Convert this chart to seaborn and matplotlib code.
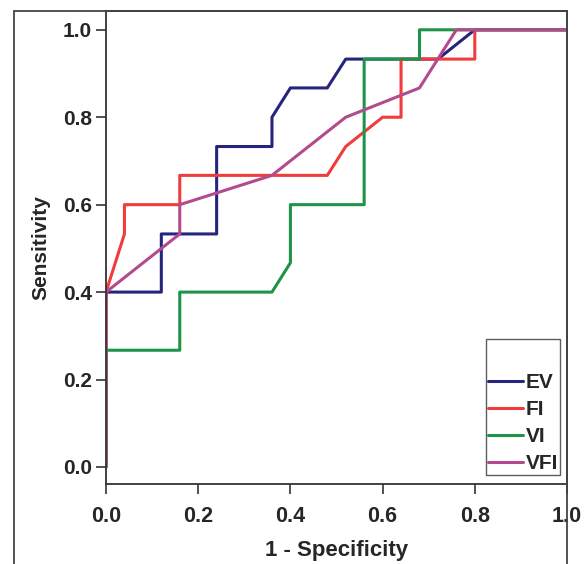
import matplotlib
matplotlib.use('Agg')
import numpy as np
import pandas as pd
import seaborn as sns
from matplotlib import pyplot as plt
from matplotlib.patches import Rectangle

# ROC points (1 - specificity, sensitivity)
ev_x = [0, 0, 0.12, 0.12, 0.24, 0.24, 0.36, 0.36, 0.40, 0.48, 0.52, 0.72, 0.80, 1.0]
ev_y = [0, 0.4, 0.4, 0.533, 0.533, 0.733, 0.733, 0.8, 0.867, 0.867, 0.933, 0.933, 1.0, 1.0]

fi_x = [0, 0, 0.04, 0.04, 0.16, 0.16, 0.48, 0.52, 0.60, 0.64, 0.64, 0.80, 0.80, 1.0]
fi_y = [0, 0.4, 0.533, 0.6, 0.6, 0.667, 0.667, 0.733, 0.8, 0.8, 0.933, 0.933, 1.0, 1.0]

vi_x = [0, 0, 0.16, 0.16, 0.36, 0.40, 0.40, 0.56, 0.56, 0.68, 0.68, 1.0]
vi_y = [0, 0.267, 0.267, 0.4, 0.4, 0.467, 0.6, 0.6, 0.933, 0.933, 1.0, 1.0]

vfi_x = [0, 0, 0.16, 0.16, 0.36, 0.52, 0.68, 0.76, 1.0]
vfi_y = [0, 0.4, 0.533, 0.6, 0.667, 0.8, 0.867, 1.0, 1.0]

names = ["EV", "FI", "VI", "VFI"]
colors = {"EV": "#25257d", "FI": "#f03c3c", "VI": "#1f9448", "VFI": "#b44a8e"}
ticks = [0.0, 0.2, 0.4, 0.6, 0.8, 1.0]

frames = []
for name, xs, ys in zip(names, [ev_x, fi_x, vi_x, vfi_x], [ev_y, fi_y, vi_y, vfi_y]):
    frames.append(pd.DataFrame({"spec": xs, "sens": ys, "curve": name}))
df = pd.concat(frames, ignore_index=True)

sns.set_style("white")
plt.rcParams['font.family'] = ['Liberation Sans', 'DejaVu Sans']
plt.rcParams['font.weight'] = 'bold'

W, H = 587, 564
fig = plt.figure(figsize=(W / 100, H / 100), dpi=100)
ax = fig.add_axes([106 / W, 80 / H, 461 / W, 473 / H])

sns.lineplot(data=df, x="spec", y="sens", hue="curve", hue_order=names, palette=colors,
             sort=False, estimator=None, linewidth=2.2, ax=ax)

ax.set_xlim(0, 1)
ax.set_ylim(-0.039, 1.043)
ax.set_xticks(ticks)
ax.set_yticks(ticks)
ax.set_xticklabels([f"{t:.1f}" for t in ticks], fontsize=15.5, fontweight='bold')
ax.set_yticklabels([f"{t:.1f}" for t in ticks], fontsize=15, fontweight='bold')
ax.tick_params(axis='both', which='both', direction='out', length=7, width=1.2, color='#333333',
               left=True, bottom=True)
ax.tick_params(axis='y', pad=3)
ax.tick_params(axis='x', pad=9)
for sp in ax.spines.values():
    sp.set_color('#333333')
    sp.set_linewidth(1.3)

ax.set_xlabel("1 - Specificity", fontsize=16, fontweight='bold')
ax.set_ylabel("Sensitivity", fontsize=15, fontweight='bold')
ax.xaxis.set_label_coords(0.5, -0.118)
ax.yaxis.set_label_coords(-0.12, 0.5)

leg = ax.legend(title=" ", loc='lower right', bbox_to_anchor=(0.985, 0.019), borderaxespad=0,
                fancybox=False, frameon=True, handlelength=1.65, handletextpad=0.15,
                labelspacing=0.38, borderpad=0.1,
                prop={'size': 15, 'weight': 'bold'}, title_fontsize=19)
leg.get_frame().set_edgecolor('#333333')
leg.get_frame().set_linewidth(1.0)
for line in leg.get_lines():
    line.set_linewidth(2.2)

# outer chart frame
fig.patches.append(Rectangle((14 / W, -0.05), (567 - 14) / W, (553 / H) + 0.05,
                             transform=fig.transFigure, fill=False, edgecolor='#444444',
                             linewidth=1.3))

fig.savefig("out.png", dpi=100)
